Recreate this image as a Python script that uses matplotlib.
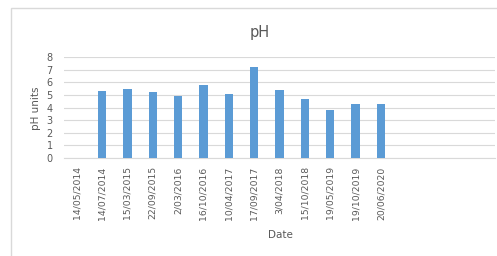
from matplotlib import pyplot as plt
from matplotlib.patches import Rectangle

# sample dates (last four slots are empty in the source sheet)
dates = ['14/05/2014', '14/07/2014', '15/03/2015', '22/09/2015', '2/03/2016',
         '16/10/2016', '10/04/2017', '17/09/2017', '3/04/2018', '15/10/2018',
         '19/05/2019', '19/10/2019', '20/06/2020', '', '', '', '']
ph = [0, 5.3, 5.5, 5.2, 4.9, 5.8, 5.1, 7.2, 5.4, 4.7, 3.8, 4.3, 4.3, 0, 0, 0, 0]
yticks = [0, 1, 2, 3, 4, 5, 6, 7, 8]

grey = '#595959'
fig = plt.figure(figsize=(4.97, 2.56), dpi=100)
fig.patch.set_facecolor('white')

# chart area border (runs off the right and bottom edges)
fig.patches.append(Rectangle((11/497, -0.1), 1.2, 1 - 8/256 + 0.1, transform=fig.transFigure,
                             fill=False, edgecolor='#D9D9D9', linewidth=1))

ax = fig.add_axes([64/497, 1 - 158/256, (495 - 64)/497, (158 - 57)/256])
x = list(range(len(dates)))
ax.bar(x, ph, width=0.33, color='#5B9BD5', zorder=3)
ax.set_xlim(-0.5, len(dates) - 0.5)
ax.set_ylim(0, 8)
ax.set_yticks(yticks)
ax.set_xticks(x)
ax.set_xticklabels(dates, rotation=90, fontsize=6.7, color=grey)
ax.tick_params(axis='y', labelsize=7, colors=grey, length=0, pad=8)
ax.tick_params(axis='x', length=0, pad=6)
ax.grid(axis='y', color='#D9D9D9', linewidth=0.8, zorder=0)
for s in ['top', 'right', 'left']:
    ax.spines[s].set_visible(False)
ax.spines['bottom'].set_color('#D9D9D9')

fig.text(260/497, 1 - 32/256, 'pH', fontsize=10.5, color=grey, ha='center', va='center')
fig.text(280/497, 1 - 235/256, 'Date', fontsize=7.5, color=grey, ha='center', va='center')
fig.text(36/497, 1 - 108/256, 'pH units', fontsize=7.5, color=grey, ha='center', va='center',
         rotation=90)

plt.savefig('out.png', dpi=100)
